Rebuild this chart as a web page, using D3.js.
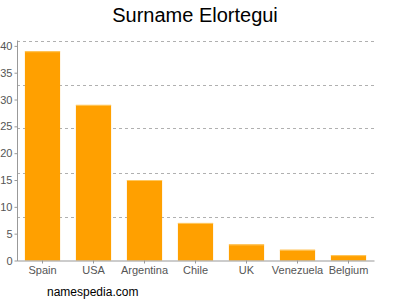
<!DOCTYPE html>
<html><head><meta charset="utf-8">
<script src="https://cdn.jsdelivr.net/npm/d3@7"></script>
<style>
body{margin:0;background:#fff;}
text{font-family:"Liberation Sans",Arial,sans-serif;}
</style></head>
<body><svg id="c" width="400" height="300"></svg>
<script>
const categories = ["Spain","USA","Argentina","Chile","UK","Venezuela","Belgium"];
const values = [39,29,15,7,3,2,1];
const yTicks = [0,5,10,15,20,25,30,35,40];
const yMax = 41;
const gridCount = 5;
const title = "Surname Elortegui";
const footer = "namespedia.com";

const svg = d3.select("#c");
const x = d3.scaleBand().domain(categories).range([17,374]).paddingInner(0.31).paddingOuter(0.155);
const y = d3.scaleLinear().domain([0,yMax]).range([260.5,40.5]);

// grid lines (evenly divided plot)
const gridVals = d3.range(1,gridCount+1).map(i=>yMax*i/gridCount);
svg.append("g").selectAll("line").data(gridVals).join("line")
  .attr("x1",17).attr("x2",375)
  .attr("y1",d=>Math.round(y(d))+0.5).attr("y2",d=>Math.round(y(d))+0.5)
  .attr("stroke","#b0b0b0").attr("stroke-dasharray","3,3").attr("stroke-width",1);

// bars
svg.append("g").selectAll("rect").data(values).join("rect")
  .attr("x",(d,i)=>x(categories[i])).attr("width",x.bandwidth())
  .attr("y",d=>y(d)).attr("height",d=>y(0)-y(d))
  .attr("fill","#ffa000");
svg.append("g").selectAll("line").data(values).join("line")
  .attr("x1",(d,i)=>x(categories[i])).attr("x2",(d,i)=>x(categories[i])+x.bandwidth())
  .attr("y1",d=>y(d)+0.5).attr("y2",d=>y(d)+0.5)
  .attr("stroke","#ffc860").attr("stroke-width",1);

// y axis
const ya = svg.append("g").attr("transform","translate(17.5,0)")
  .call(d3.axisLeft(y).tickValues(yTicks).tickSize(3).tickPadding(2).tickSizeOuter(0));
ya.select(".domain").attr("stroke","#999").attr("d","M0,40.5V261");
ya.selectAll(".tick line").attr("stroke","#999");
ya.selectAll("text").attr("fill","#555").style("font-size","11px");

// x axis
const xa = svg.append("g").attr("transform","translate(0,260.5)")
  .call(d3.axisBottom(x).tickSize(3).tickSizeOuter(0).tickPadding(3));
xa.select(".domain").attr("stroke","#999");
xa.selectAll(".tick line").attr("stroke","#999");
xa.selectAll("text").attr("fill","#555").style("font-size","11px");

svg.append("text").attr("x",195).attr("y",22).attr("text-anchor","middle")
  .style("font-size","20px").attr("fill","#000").text(title);
svg.append("text").attr("x",47).attr("y",296)
  .style("font-size","12px").attr("fill","#000").text(footer);
</script></body></html>
